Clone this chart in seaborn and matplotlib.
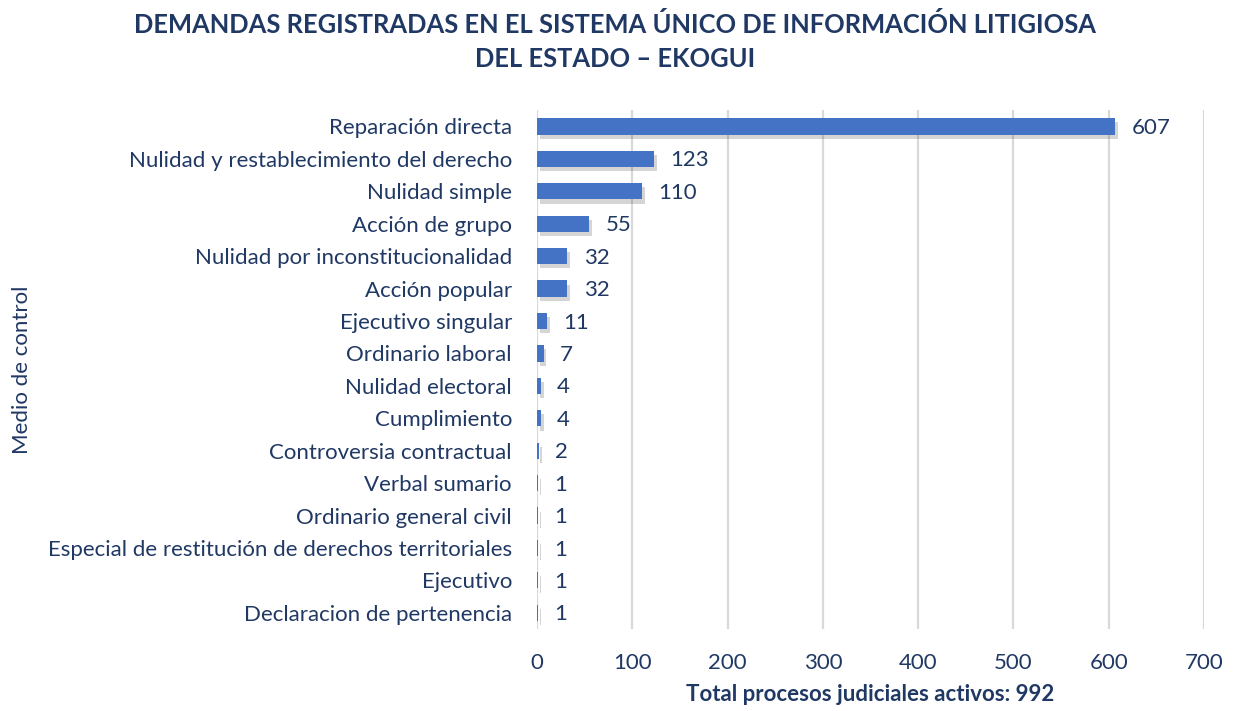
import pandas as pd
import seaborn as sns
import matplotlib.pyplot as plt
import matplotlib.patheffects as pe

# Demandas por medio de control
categorias = [
    "Reparación directa",
    "Nulidad y restablecimiento del derecho",
    "Nulidad simple",
    "Acción de grupo",
    "Nulidad por inconstitucionalidad",
    "Acción popular",
    "Ejecutivo singular",
    "Ordinario laboral",
    "Nulidad electoral",
    "Cumplimiento",
    "Controversia contractual",
    "Verbal sumario",
    "Ordinario general civil",
    "Especial de restitución de derechos territoriales",
    "Ejecutivo",
    "Declaracion de pertenencia",
]
procesos = [607, 123, 110, 55, 32, 32, 11, 7, 4, 4, 2, 1, 1, 1, 1, 1]
ticks_x = [0, 100, 200, 300, 400, 500, 600, 700]

df = pd.DataFrame({"Medio": categorias, "Procesos": procesos})

azul_txt = "#203864"
azul_bar = "#4472C4"

sns.set_style("white")
plt.rcParams["font.family"] = ["Lato", "DejaVu Sans"]

fig = plt.figure(figsize=(12.33, 7.11), dpi=100)
ax = fig.add_axes([0.4355, 0.1153, 0.541, 0.7297])

sns.barplot(data=df, x="Procesos", y="Medio", color=azul_bar, width=0.5,
            saturation=1, linewidth=0, ax=ax, zorder=3)

for p in ax.patches:
    p.set_path_effects([pe.SimplePatchShadow(offset=(2, -3), alpha=0.22,
                                             shadow_rgbFace="#404040"),
                        pe.Normal()])

for i, v in enumerate(procesos):
    ax.text(v + 17, i + 0.05, str(v), va="center", ha="left", fontsize=16,
            color=azul_txt)

ax.set_xlim(0, 700)
ax.set_xticks(ticks_x)
ax.grid(axis="x", color="#D9D9D9", linewidth=1.6, zorder=0)
ax.set_axisbelow(True)
for s in ax.spines.values():
    s.set_visible(False)
ax.tick_params(axis="both", length=0, labelsize=16, colors=azul_txt)
ax.tick_params(axis="y", pad=18)
ax.tick_params(axis="x", pad=17)

ax.set_xlabel("Total procesos judiciales activos: 992", fontsize=16,
              fontweight="bold", color=azul_txt, labelpad=8)
ax.set_ylabel("")
fig.text(0.018, 0.48, "Medio de control", rotation=90, va="center",
         ha="center", fontsize=16, color=azul_txt)

fig.text(0.499, 0.942, "DEMANDAS REGISTRADAS EN EL SISTEMA ÚNICO DE INFORMACIÓN LITIGIOSA\nDEL ESTADO – EKOGUI",
         ha="center", va="center", fontsize=18.4, fontweight="bold",
         color=azul_txt, linespacing=1.5)

fig.savefig("out.png", dpi=100)
